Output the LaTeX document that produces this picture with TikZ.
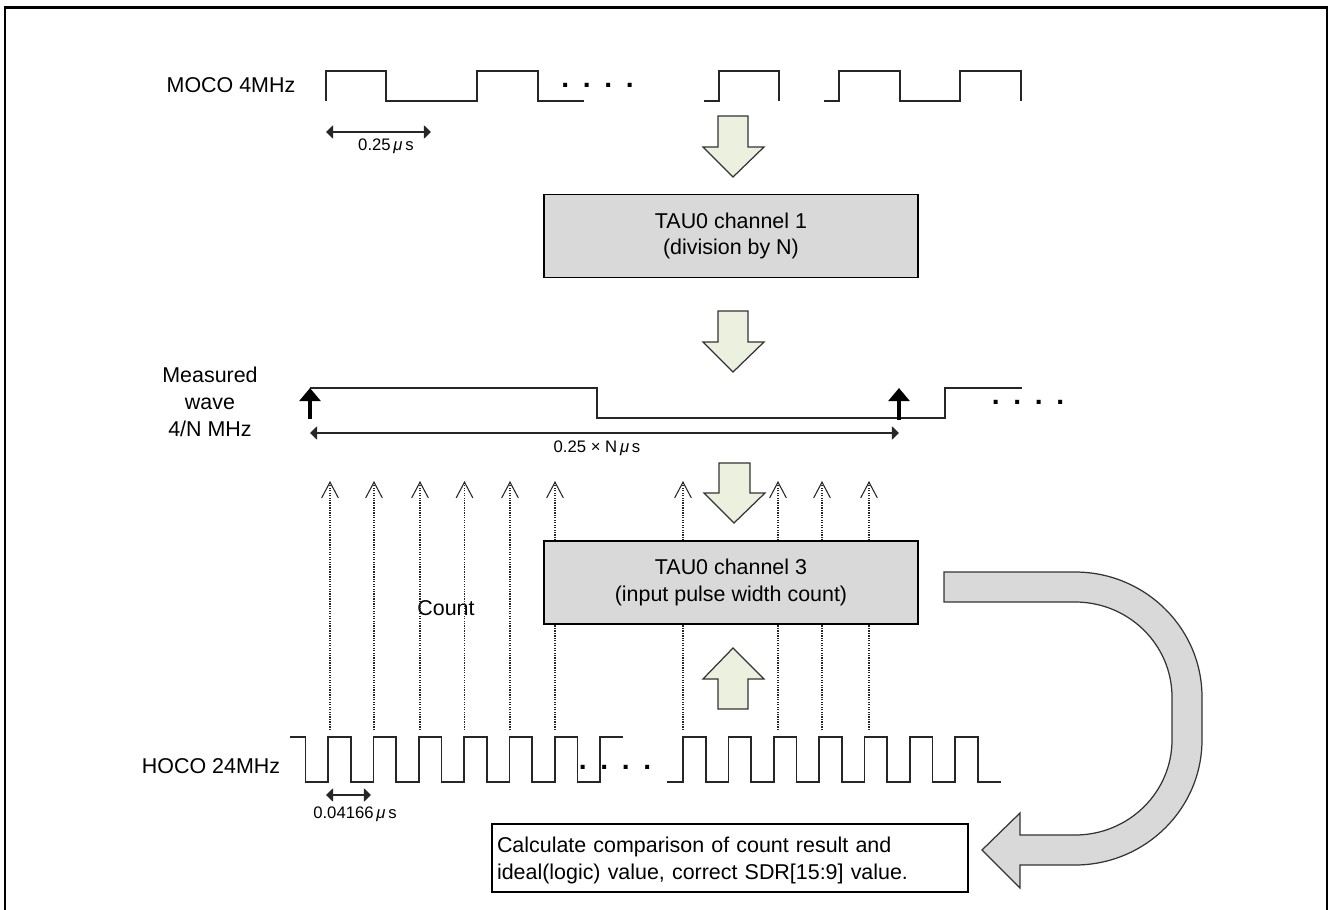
\documentclass[tikz,border=0pt]{standalone}
\usepackage{fontspec}
\setmainfont{Liberation Sans}
\usetikzlibrary{arrows.meta}
\definecolor{palegreen}{HTML}{EBF1DE}
\definecolor{blockgray}{HTML}{D9D9D9}

\begin{document}
\begin{tikzpicture}[x=0.02cm,y=-0.02cm]

\tikzset{wave/.style = {draw=black!85,line width=0.8pt,line join=miter}}
\tikzset{frameline/.style = {draw=black,line width=1.2pt}}
\tikzset{label/.style = {font=\fontsize{12.2}{15.4}\selectfont,align=center,inner sep=0pt}}
\tikzset{small/.style = {font=\fontsize{9.5}{11}\selectfont,inner sep=0pt}}
\tikzset{dotrow/.style = {font=\fontsize{16}{18}\selectfont\bfseries,inner sep=0pt}}
\tikzset{block/.style = {shape=rectangle,draw=black,line width=1pt,fill=blockgray,minimum width=374*0.02cm,minimum height=83*0.02cm,align=center,font=\fontsize{12.2}{15}\selectfont,inner sep=0pt,execute at begin node={\rule{0pt}{11.4pt}}}}
\tikzset{result/.style = {shape=rectangle,draw=black,line width=1pt,fill=white,text width=466*0.02cm,minimum height=68*0.02cm,align=left,font=\fontsize{12.2}{15.4}\selectfont,inner xsep=5*0.02cm,inner ysep=0pt,execute at begin node={\rule{0pt}{12.1pt}}}}
\tikzset{fat/.style = {draw=black!80,line width=0.7pt,fill=palegreen,line join=miter}}
\tikzset{curved/.style = {draw=black!80,line width=0.7pt,fill=blockgray,line join=miter}}
\tikzset{span/.style = {{Triangle[length=4pt,width=7.5pt]}-{Triangle[length=4pt,width=7.5pt]},draw=black!85,line width=0.75pt}}
\tikzset{count/.style = {-{Straight Barb[length=9pt,width=9.5pt,line width=0.6pt]},draw=black!85,line width=0.6pt,dash pattern=on 0.7pt off 0.7pt}}
\tikzset{edge/.style = {-{Triangle[length=7.5pt,width=12pt]},draw=black,line width=2pt}}
\newcommand{\mydots}{.\hskip 7.8pt.\hskip 7.8pt.\hskip 7.8pt.}

\useasboundingbox (0,0) rectangle (1330,910);

% frame
\coordinate (fl) at (5,910);
\coordinate (ftl) at (5,7.5);
\coordinate (ftr) at (1327,7.5);
\coordinate (fr) at (1327,910);
\draw[frameline] (fl) -- (ftl) -- (ftr) -- (fr);

% labels
\node[label] (moco) at (231,85) {MOCO 4MHz};
\node[label] (meas) at (210,402) {Measured\\wave\\4/N MHz};
\node[label] (hoco) at (211,766) {HOCO 24MHz};
\node[label] (cnt) at (446,608) {Count};

% waves
\draw[wave] (326,101) -- (326,71) -- (386,71) -- (386,101) -- (477,101) -- (477,71) -- (538,71) -- (538,101) -- (584,101);
\draw[wave] (704,101) -- (719,101) -- (719,71) -- (779,71) -- (779,101);
\draw[wave] (824,101) -- (839,101) -- (839,71) -- (900,71) -- (900,101) -- (960,101) -- (960,71) -- (1021,71) -- (1021,101);
\draw[wave] (310,388) -- (597,388) -- (597,418) -- (945,418) -- (945,388) -- (1022,388);
\draw[wave] (290,737) -- (305.5,737) -- (305.5,782) -- (328,782) -- (328,737) -- (351,737) -- (351,782) -- (373.5,782) -- (373.5,737) -- (396,737) -- (396,782) -- (419,782) -- (419,737) -- (441.5,737) -- (441.5,782) -- (464,782) -- (464,737) -- (487,737) -- (487,782) -- (509.5,782) -- (509.5,737) -- (532,737) -- (532,782) -- (555,782) -- (555,737) -- (577.5,737) -- (577.5,782) -- (600,782) -- (600,737) -- (623,737);
\draw[wave] (667,782) -- (683,782) -- (683,737) -- (706,737) -- (706,782) -- (728.5,782) -- (728.5,737) -- (751,737) -- (751,782) -- (774,782) -- (774,737) -- (796.5,737) -- (796.5,782) -- (819,782) -- (819,737) -- (842,737) -- (842,782) -- (864.5,782) -- (864.5,737) -- (887,737) -- (887,782) -- (910,782) -- (910,737) -- (932.5,737) -- (932.5,782) -- (955,782) -- (955,737) -- (978,737) -- (978,782) -- (1001,782);

% dots
\node[dotrow] (dots1) at (597.5,85) {\mydots};
\node[dotrow] (dots2) at (1028,402) {\mydots};
\node[dotrow] (dots3) at (615,767) {\mydots};

% spans
\coordinate (s1a) at (326,132);
\coordinate (s1b) at (431,132);
\coordinate (s2a) at (310,433);
\coordinate (s2b) at (899,433);
\coordinate (s3a) at (326,795);
\coordinate (s3b) at (371,795);
\draw[span] (s1a) to (s1b);
\draw[span] (s2a) to (s2b);
\draw[span] (s3a) to (s3b);
\node[small] (t1) at (386,146) {0.25\,\textit{μ}\,s};
\node[small] (t2) at (597,448) {0.25 × N\,\textit{μ}\,s};
\node[small] (t3) at (355,814) {0.04166\,\textit{μ}\,s};

% edges of the measured wave
\coordinate (e1a) at (310,419);
\coordinate (e1b) at (310,388);
\coordinate (e2a) at (899,420);
\coordinate (e2b) at (899,388);
\draw[edge] (e1a) to (e1b);
\draw[edge] (e2a) to (e2b);

% count arrows
\coordinate (c1a) at (330,730);
\coordinate (c1b) at (330,481);
\coordinate (c2a) at (374,730);
\coordinate (c2b) at (374,481);
\coordinate (c3a) at (420,730);
\coordinate (c3b) at (420,481);
\coordinate (c4a) at (464.5,730);
\coordinate (c4b) at (464.5,481);
\coordinate (c5a) at (510,730);
\coordinate (c5b) at (510,481);
\coordinate (c6a) at (555,730);
\coordinate (c6b) at (555,481);
\coordinate (c7a) at (683,730);
\coordinate (c7b) at (683,481);
\coordinate (c8a) at (778,730);
\coordinate (c8b) at (778,481);
\coordinate (c9a) at (822,730);
\coordinate (c9b) at (822,481);
\coordinate (c10a) at (869,730);
\coordinate (c10b) at (869,481);
\draw[count] (c1a) to (c1b);
\draw[count] (c2a) to (c2b);
\draw[count] (c3a) to (c3b);
\draw[count] (c4a) to (c4b);
\draw[count] (c5a) to (c5b);
\draw[count] (c6a) to (c6b);
\draw[count] (c7a) to (c7b);
\draw[count] (c8a) to (c8b);
\draw[count] (c9a) to (c9b);
\draw[count] (c10a) to (c10b);

% blocks
\node[block] (tau1) at (731,236) {TAU0 channel 1\\(division by N)};
\node[block] (tau3) at (731,582.5) {TAU0 channel 3\\(input pulse width count)};
\node[result] (calc) at (730,858) {Calculate comparison of count result and\\ideal(logic) value, correct SDR[15:9] value.};

% fat arrows
\draw[fat] (718,116) -- (748,116) -- (748,147) -- (764,147) -- (733,177) -- (703,147) -- (718,147) -- cycle;
\draw[fat] (718,311) -- (748,311) -- (748,342) -- (764,342) -- (733,372) -- (703,342) -- (718,342) -- cycle;
\draw[fat] (719,463) -- (750,463) -- (750,493) -- (765,493) -- (734,523) -- (704,493) -- (719,493) -- cycle;
\draw[fat] (718,709) -- (748,709) -- (748,679) -- (764,679) -- (733,648) -- (703,679) -- (718,679) -- cycle;

% curved arrow
\draw[curved] (944,572) -- (1075,572) .. controls (1145,572) and (1202,628) .. (1202,697) -- (1202,740) .. controls (1202,809) and (1145,865) .. (1075,865) -- (1020,865) -- (1020,888) -- (982,850) -- (1020,813) -- (1020,835) -- (1075,835) .. controls (1129,835) and (1172,792) .. (1172,740) -- (1172,697) .. controls (1172,645) and (1129,602) .. (1075,602) -- (944,602) -- cycle;

\end{tikzpicture}
\end{document}
